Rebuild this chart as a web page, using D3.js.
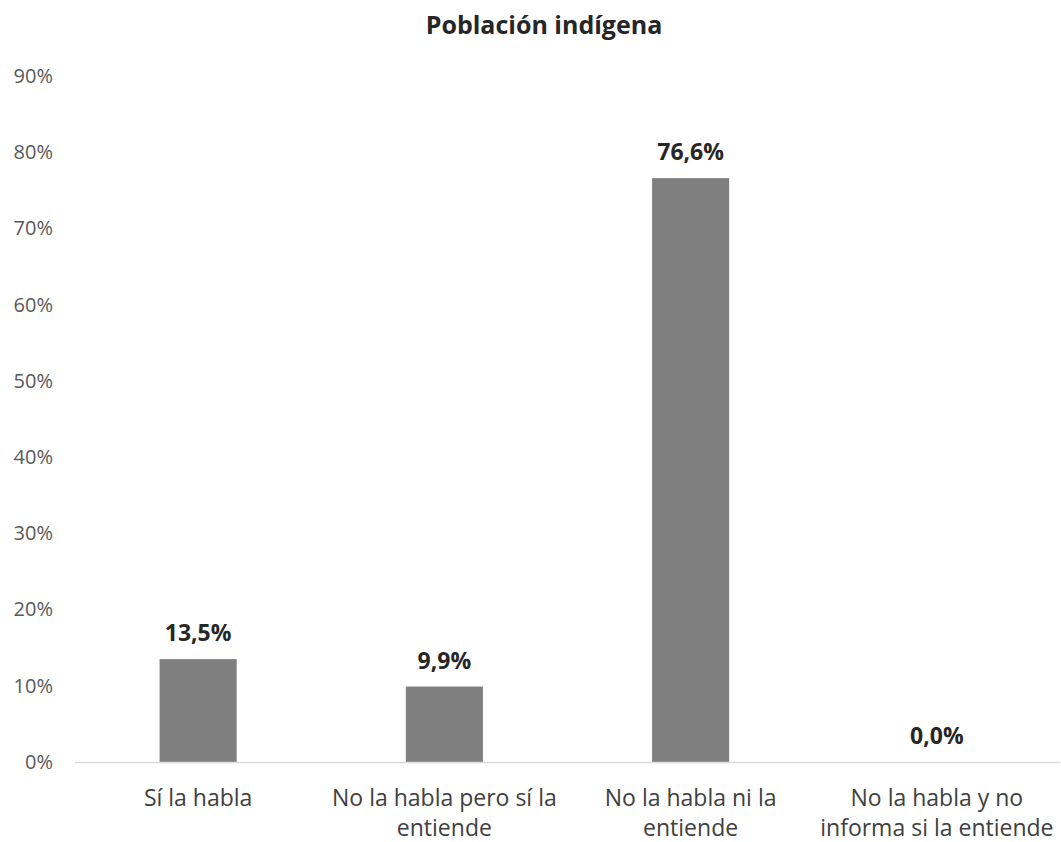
<!DOCTYPE html>
<html>
<head>
<meta charset="utf-8">
<script src="https://cdn.jsdelivr.net/npm/d3@7"></script>
<style>
  body { margin: 0; background: #fff; }
  text { font-family: "Open Sans", "Noto Sans", sans-serif; }
</style>
</head>
<body>
<div id="chart"></div>
<script>
// data
var categories = [
  "Sí la habla",
  "No la habla pero sí la entiende",
  "No la habla ni la entiende",
  "No la habla y no informa si la entiende"
];
var values = [13.5, 9.9, 76.6, 0.0];
var yTicks = [0, 10, 20, 30, 40, 50, 60, 70, 80, 90];
var title = "Población indígena";

var width = 1061, height = 842;
var margin = { top: 76, right: 1, bottom: 80, left: 75 };

var svg = d3.select('#chart')
  .append('svg')
  .attr('width', width)
  .attr('height', height);

var x = d3.scaleBand()
  .domain(categories)
  .range([margin.left, width - margin.right])
  .paddingInner(0.687)
  .paddingOuter(0.3435);

var y = d3.scaleLinear()
  .domain([0, 90])
  .range([height - margin.bottom, margin.top]);

// title
svg.append('text')
  .attr('x', 544)
  .attr('y', 34)
  .attr('text-anchor', 'middle')
  .attr('font-size', 25)
  .attr('font-weight', 'bold')
  .attr('fill', '#262626')
  .text(title);

// y axis labels
var yAxis = g => g
  .attr('transform', `translate(${margin.left},0)`)
  .call(d3.axisLeft(y).tickValues(yTicks).tickFormat(d => d + '%').tickSize(0).tickPadding(22))
  .call(g => g.select('.domain').remove())
  .call(g => g.selectAll('text')
    .attr('font-size', 20)
    .attr('fill', '#595959')
    .style('font-family', '"Open Sans", sans-serif'));
svg.append('g').call(yAxis);

// bars
svg.append('g')
  .selectAll('rect')
  .data(values)
  .enter()
  .append('rect')
  .attr('x', (d, i) => x(categories[i]))
  .attr('y', d => y(d))
  .attr('width', x.bandwidth())
  .attr('height', d => y(0) - y(d))
  .attr('fill', '#7f7f7f');

// baseline
svg.append('line')
  .attr('x1', margin.left)
  .attr('x2', width - margin.right)
  .attr('y1', y(0) + 0.5)
  .attr('y2', y(0) + 0.5)
  .attr('stroke', '#d9d9d9')
  .attr('stroke-width', 1.5);

// value labels
svg.append('g')
  .selectAll('text')
  .data(values)
  .enter()
  .append('text')
  .attr('x', (d, i) => x(categories[i]) + x.bandwidth() / 2)
  .attr('y', d => y(d) - 18)
  .attr('text-anchor', 'middle')
  .attr('font-size', 23)
  .attr('font-weight', 'bold')
  .attr('fill', '#262626')
  .text(d => d.toFixed(1).replace('.', ',') + '%');

// category labels, wrapped
var catG = svg.append('g');
categories.forEach(function(c) {
  var cx = x(c) + x.bandwidth() / 2;
  var t = catG.append('text')
    .attr('x', cx)
    .attr('y', y(0) + 44)
    .attr('text-anchor', 'middle')
    .attr('font-size', 23)
    .attr('fill', '#404040');
  var words = c.split(' ');
  var line = [];
  var tspan = t.append('tspan').attr('x', cx).attr('dy', 0);
  words.forEach(function(w) {
    line.push(w);
    tspan.text(line.join(' '));
    if (tspan.node().getComputedTextLength() > 240 && line.length > 1) {
      line.pop();
      tspan.text(line.join(' '));
      line = [w];
      tspan = t.append('tspan')
        .attr('x', cx)
        .attr('dy', 30)
        .text(w);
    }
  });
});
</script>
</body>
</html>
